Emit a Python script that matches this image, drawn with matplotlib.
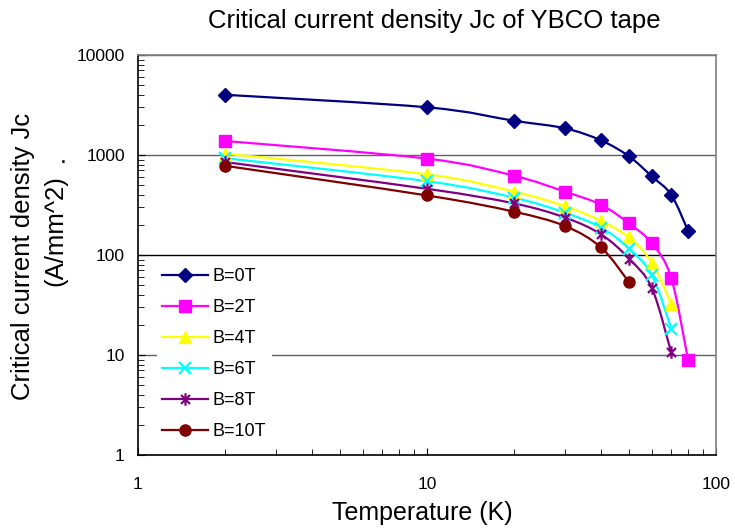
import numpy as np
import matplotlib
matplotlib.use("Agg")
import matplotlib.pyplot as plt
from matplotlib.path import Path
from matplotlib.patches import PathPatch
from matplotlib.lines import Line2D
from matplotlib.ticker import LogLocator, NullFormatter

plt.rcParams['font.family'] = ['Liberation Sans', 'DejaVu Sans']

# ---- data ----
temps_full = [2, 10, 20, 30, 40, 50, 60, 70, 80]
temps_8 = [2, 10, 20, 30, 40, 50, 60, 70]
temps_6 = [2, 10, 20, 30, 40, 50]

jc_0T = [4000, 3000, 2200, 1850, 1400, 970, 610, 400, 175]
jc_2T = [1380, 920, 620, 430, 318, 207, 131, 59, 9]
jc_4T = [1030, 640, 430, 308, 219, 150, 84, 32.5]
jc_6T = [930, 547, 374, 265, 188, 116, 63, 18.3]
jc_8T = [850, 459, 328, 237, 161, 92, 46.6, 10.6]
jc_10T = [780, 394, 271, 195, 119, 53.5]

labels = ["B=0T", "B=2T", "B=4T", "B=6T", "B=8T", "B=10T"]
series_x = [temps_full, temps_full, temps_8, temps_8, temps_8, temps_6]
series_y = [jc_0T, jc_2T, jc_4T, jc_6T, jc_8T, jc_10T]
colors = ["#000080", "#FF00FF", "#FFFF00", "#00FFFF", "#800080", "#800000"]

star = Path([(0, -1), (0, 1), (-0.72, -0.72), (0.72, 0.72), (-0.72, 0.72), (0.72, -0.72)],
            [Path.MOVETO, Path.LINETO, Path.MOVETO, Path.LINETO, Path.MOVETO, Path.LINETO])
markers = ["D", "s", "^", "x", star, "o"]
msizes = [7, 8, 9, 9, 9, 8]


def smooth_path(x, y):
    lx = np.log10(np.asarray(x, float))
    ly = np.log10(np.asarray(y, float))
    pts = np.column_stack([lx, ly])
    n = len(pts)
    verts = [pts[0]]
    codes = [Path.MOVETO]
    for i in range(n - 1):
        p0 = pts[max(i - 1, 0)]
        p1 = pts[i]
        p2 = pts[i + 1]
        p3 = pts[min(i + 2, n - 1)]
        c1 = p1 + (p2 - p0) / 6.0
        c2 = p2 - (p3 - p1) / 6.0
        verts += [c1, c2, p2]
        codes += [Path.CURVE4] * 3
    verts = 10 ** np.array(verts)
    return Path(verts, codes)


fig = plt.figure(figsize=(7.35, 5.29), dpi=100)
ax = fig.add_axes([138 / 735, 1 - 455 / 529, (716 - 138) / 735, (455 - 55) / 529])
ax.set_xscale('log')
ax.set_yscale('log')
ax.set_xlim(1, 100)
ax.set_ylim(1, 10000)

handles = []
for x, y, c, m, ms, lab in zip(series_x, series_y, colors, markers, msizes, labels):
    patch = PathPatch(smooth_path(x, y), fill=False, edgecolor=c, lw=1.6, zorder=3)
    ax.add_patch(patch)
    mew = 1.6 if (isinstance(m, str) and m == "x") or m is star else 1.0
    ax.plot(x, y, ls='none', marker=m, ms=ms, color=c, mec=c, mfc=c, mew=mew, zorder=4)
    handles.append(Line2D([], [], color=c, lw=1.6, marker=m, ms=ms, mec=c, mfc=c, mew=mew, label=lab))

ax.set_yticks([1, 10, 100, 1000, 10000])
ax.set_yticklabels(["1", "10", "100", "1000", "10000"])
ax.set_xticks([1, 10, 100])
ax.set_xticklabels(["1", "10", "100"])
ax.yaxis.set_minor_locator(LogLocator(base=10, subs=np.arange(2, 10)))
ax.xaxis.set_minor_locator(LogLocator(base=10, subs=np.arange(2, 10)))
ax.yaxis.set_minor_formatter(NullFormatter())
ax.xaxis.set_minor_formatter(NullFormatter())
ax.yaxis.grid(True, which='major', color='#606060', lw=1.0, zorder=1)
for g, val in zip(ax.get_ygridlines(), [1, 10, 100, 1000, 10000]):
    if val == 100:
        g.set_color('black')
ax.set_axisbelow(True)

ax.tick_params(which='both', direction='in', top=False, right=False, labelsize=12.5, colors='black')
ax.tick_params(axis='y', which='major', length=5, pad=9.5)
ax.tick_params(axis='y', which='minor', length=4)
ax.tick_params(axis='x', which='major', length=5, pad=16)
ax.tick_params(axis='x', which='minor', length=4)

for s in ['top', 'right']:
    ax.spines[s].set_color('#808080')
    ax.spines[s].set_linewidth(1.2)
for s in ['left', 'bottom']:
    ax.spines[s].set_color('black')
    ax.spines[s].set_linewidth(1.2)

fig.text(434 / 735, 1 - 21 / 529, "Critical current density Jc of YBCO tape",
         ha='center', va='center', fontsize=18.5)
fig.text(422 / 735, 1 - 513 / 529, "Temperature (K)", ha='center', va='center', fontsize=18)
fig.text(23 / 735, 1 - 256 / 529, "Critical current density Jc", rotation=90,
         ha='center', va='center', fontsize=18.5)
fig.text(55 / 735, 1 - 231 / 529, "(A/mm^2)", rotation=90,
         ha='center', va='center', fontsize=18.5)
fig.text(63 / 735, 1 - 156 / 529, ".", ha='center', va='center', fontsize=18)

leg = ax.legend(handles=handles, loc='upper left',
                bbox_to_anchor=(157 / 735, 1 - 263 / 529), bbox_transform=fig.transFigure,
                frameon=True, fancybox=False, edgecolor='none', facecolor='white', framealpha=1,
                fontsize=13, handlelength=2.5, handletextpad=0.3, labelspacing=0.77,
                borderpad=0.3, borderaxespad=0)
leg.set_zorder(5)

fig.savefig("out.png", dpi=100)
